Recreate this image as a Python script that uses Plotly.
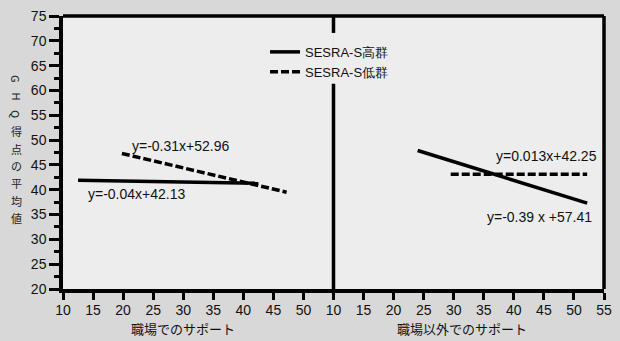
import plotly.graph_objects as go

# ---- data ----
series_names = ["SESRA-S高群", "SESRA-S低群"]
# left panel: 職場でのサポート
left_high_x = [12.5, 42.5]
left_high_y = [41.9, 41.3]
left_low_x = [19.8, 47.2]
left_low_y = [47.3, 39.5]
# right panel: 職場以外でのサポート
right_high_x = [24.0, 52.2]
right_high_y = [47.9, 37.3]
right_low_x = [29.5, 52.2]
right_low_y = [43.1, 43.1]

eq_texts = ["y=-0.31x+52.96", "y=-0.04x+42.13", "y=0.013x+42.25", "y=-0.39 x +57.41"]
eq_pos = [(29.7, 48.9, "x"), (22.3, 39.1, "x"), (45.5, 46.7, "x2"), (44.3, 34.5, "x2")]

x_titles = ["職場でのサポート", "職場以外でのサポート"]
y_title_chars = ["G", "H", "Q", "得", "点", "の", "平", "均", "値"]
left_ticks = [10, 15, 20, 25, 30, 35, 40, 45, 50]
right_ticks = [10, 15, 20, 25, 30, 35, 40, 45, 50, 55]
y_ticks = [20, 25, 30, 35, 40, 45, 50, 55, 60, 65, 70, 75]

LAT = "Liberation Sans, Arial, sans-serif"
CJK = "Noto Sans CJK JP, sans-serif"

L, R, T, B = 63, 8, 15, 52
W, H = 620 - L - R, 341 - T - B


def px_x(px):
    return (px - L) / W


def px_y(py):
    return (341 - B - py) / H


fig = go.Figure()
solid = dict(color="black", width=3.5)
dashed = dict(color="black", width=3.5, dash="8px,3px")

fig.add_trace(go.Scatter(x=left_high_x, y=left_high_y, mode="lines", line=solid,
                         name=series_names[0], xaxis="x", yaxis="y"))
fig.add_trace(go.Scatter(x=left_low_x, y=left_low_y, mode="lines", line=dashed,
                         name=series_names[1], xaxis="x", yaxis="y"))
fig.add_trace(go.Scatter(x=right_high_x, y=right_high_y, mode="lines", line=solid,
                         showlegend=False, xaxis="x2", yaxis="y"))
fig.add_trace(go.Scatter(x=right_low_x, y=right_low_y, mode="lines", line=dashed,
                         showlegend=False, xaxis="x2", yaxis="y"))

annotations = []
for t, (ex, ey, xr) in zip(eq_texts, eq_pos):
    annotations.append(dict(x=ex, y=ey, xref=xr, yref="y", text=t, showarrow=False,
                            xanchor="center", yanchor="middle",
                            font=dict(family=LAT, size=14, color="#111")))
annotations.append(dict(x=px_x(185), y=px_y(329), xref="paper", yref="paper", text=x_titles[0],
                        showarrow=False, xanchor="center", yanchor="middle",
                        font=dict(family=CJK, size=13, color="#111")))
annotations.append(dict(x=px_x(468), y=px_y(329), xref="paper", yref="paper", text=x_titles[1],
                        showarrow=False, xanchor="center", yanchor="middle",
                        font=dict(family=CJK, size=13, color="#111")))
# vertical y title, one character per line
y0 = 78
for i, ch in enumerate(y_title_chars):
    annotations.append(dict(x=px_x(16), y=px_y(y0 + i * 17.5), xref="paper", yref="paper",
                            text=ch, showarrow=False, xanchor="center", yanchor="middle",
                            textangle=90 if ch.isascii() else 0,
                            font=dict(family=CJK, size=11, color="#222")))

frame = dict(color="black", width=3.5)
shapes = [
    dict(type="line", xref="paper", yref="paper", x0=0, x1=1, y0=1, y1=1, line=frame),
    dict(type="line", xref="paper", yref="paper", x0=1, x1=1, y0=0, y1=1, line=frame),
    dict(type="line", xref="paper", yref="paper", x0=0.5, x1=0.5, y0=1, y1=px_y(32), line=frame),
    dict(type="line", xref="paper", yref="paper", x0=0.5, x1=0.5, y0=0, y1=px_y(83), line=frame),
]

axis_common = dict(range=[10, 55], showgrid=False, zeroline=False, showline=True,
                   linecolor="black", linewidth=3.5, ticks="outside", ticklen=7,
                   tickwidth=3, tickcolor="black", ticklabelstandoff=-2,
                   tickfont=dict(family=LAT, size=14, color="#111"))

fig.update_layout(
    width=620, height=341,
    margin=dict(l=L, r=R, t=T, b=B),
    paper_bgcolor="#d8d8d8",
    plot_bgcolor="#ededed",
    showlegend=True,
    legend=dict(x=px_x(268), y=px_y(36), xanchor="left", yanchor="top",
                bgcolor="rgba(0,0,0,0)", font=dict(family=LAT, size=13, color="#111"),
                tracegroupgap=0, itemwidth=30),
    xaxis=dict(domain=[0, 0.5], tickvals=left_ticks, **axis_common),
    xaxis2=dict(domain=[0.5, 1], tickvals=right_ticks, anchor="y", **axis_common),
    yaxis=dict(range=[20, 75], tickvals=y_ticks, showgrid=False, zeroline=False,
               showline=True, linecolor="black", linewidth=3.5, ticks="outside",
               ticklen=10, tickwidth=3, tickcolor="black",
               tickfont=dict(family=LAT, size=14, color="#111"),
               minor=dict(dtick=2.5, tick0=20, ticks="outside", ticklen=5, tickwidth=3,
                          tickcolor="black", showgrid=False)),
    annotations=annotations,
    shapes=shapes,
)

fig.write_html("out.html", config={"displayModeBar": False},
               post_script="document.body.style.margin='0';")
